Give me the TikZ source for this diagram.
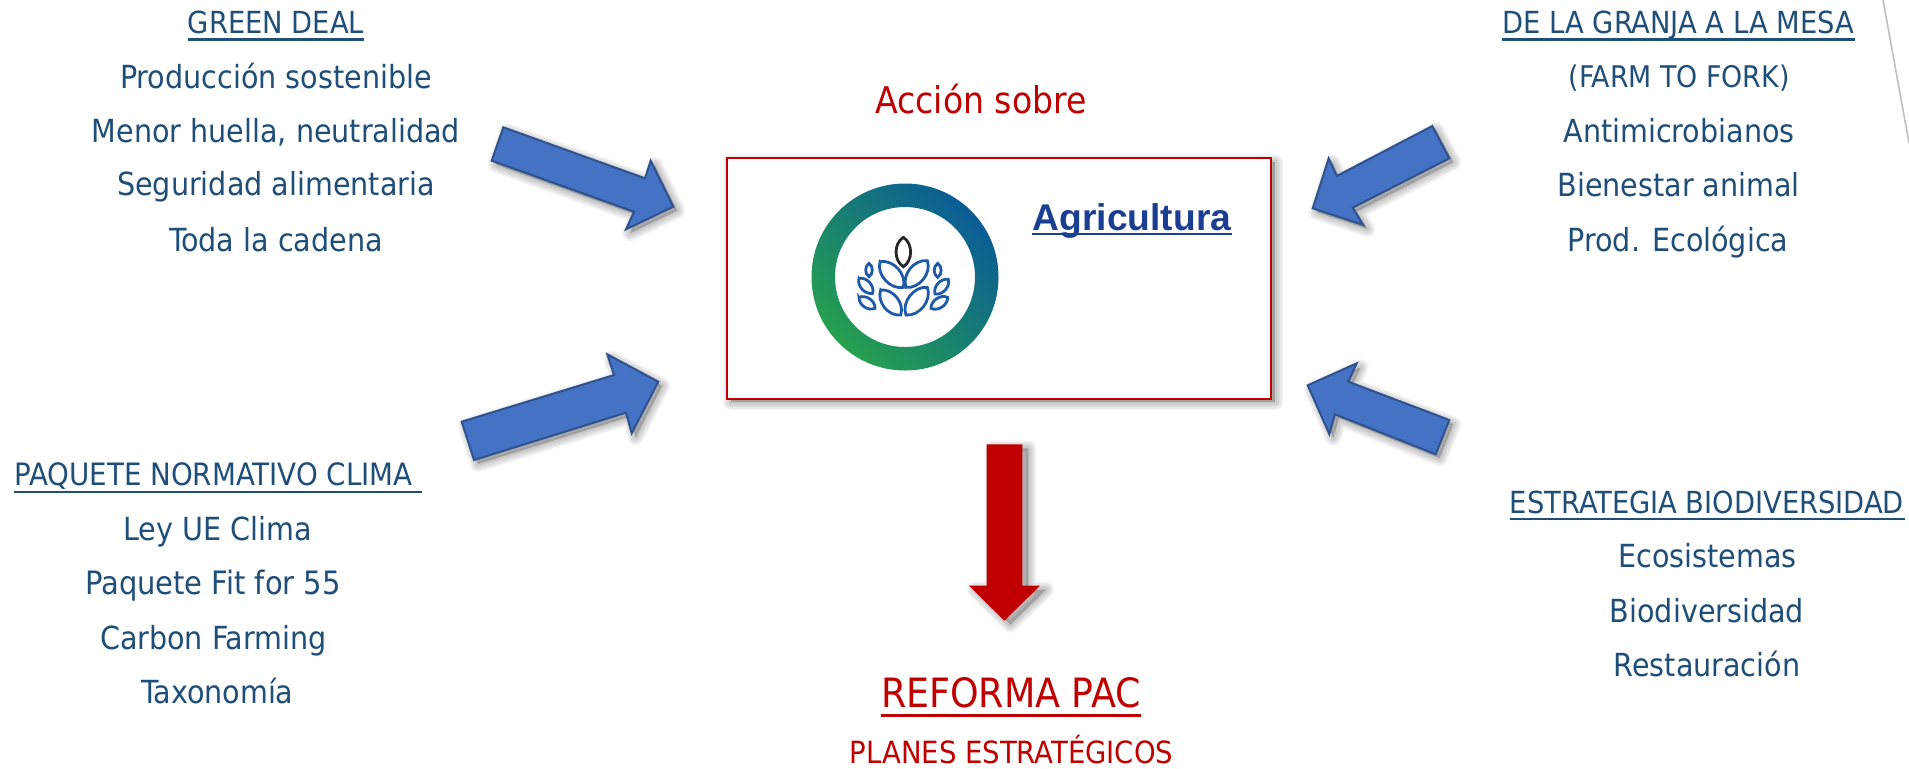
\documentclass[tikz,border=0pt]{standalone}
\usepackage{fontspec}
\setmainfont{DejaVu Sans Condensed}
\newfontfamily\arialfont{Liberation Sans}
\definecolor{txtblue}{HTML}{1F4E79}
\definecolor{pptred}{HTML}{C00000}
\definecolor{arrowfill}{HTML}{4472C4}
\definecolor{arrowline}{HTML}{2F528F}
\definecolor{ringgreen}{HTML}{26A04E}
\definecolor{ringblue}{HTML}{0A5C96}
\definecolor{leafblue}{HTML}{1F5AA8}
\definecolor{agriblue}{HTML}{1A3E92}
\newcommand\softshadow[3]{%
  \foreach \w in {16,13,10,7,4}{%
    \path[fill=black,draw=black,fill opacity=.045,draw opacity=.045,line join=round,
      line width=\w*0.5pt,shift={(#1,#2)}] #3;}}
\newcommand\blockarrow[1]{%
  \softshadow{4}{4}{#1}%
  \draw[blockarrowstyle] #1;}
\newcommand\leafshape[4]{\draw[leafstyle] (#1,#2) to[bend left=58] (#3,#4) to[bend left=58] cycle;}
\tikzset{
  body/.style={font=\fontsize{15.9}{19}\selectfont,text=txtblue,anchor=base,inner sep=0pt},
  bodycaps/.style={font=\fontsize{15.2}{18}\selectfont,text=txtblue,anchor=base,inner sep=0pt},
  redtext/.style={text=pptred,anchor=base,inner sep=0pt},
  ulblue/.style={draw=txtblue,line width=1.1pt},
  blockarrowstyle/.style={fill=arrowfill,draw=arrowline,line width=1pt,line join=miter},
  leafstyle/.style={draw=leafblue,line width=1.4pt}
}
\begin{document}
\begin{tikzpicture}[x=0.5pt,y=-0.5pt]
\useasboundingbox[fill=white] (0,0) rectangle (1909,768);
\draw[draw=black!25,line width=0.8pt] (1883,0) -- (1909,143);
% texts top left
\node[bodycaps] (gd) at (276,33) {GREEN DEAL};
\draw[ulblue] ([yshift=-3.2pt]gd.base west) -- ([yshift=-3.2pt]gd.base east);
\node[body] (gd1) at (276,88) {Producción sostenible};
\node[body] (gd2) at (276,142) {Menor huella, neutralidad};
\node[body] (gd3) at (276,195.5) {Seguridad alimentaria};
\node[body] (gd4) at (276,251) {Toda la cadena};
% bottom left
\node[bodycaps,font=\fontsize{15.4}{18}\selectfont] (pn) at (218,485.5) {PAQUETE NORMATIVO CLIMA\kern4.5pt};
\draw[ulblue] ([yshift=-3.2pt]pn.base west) -- ([yshift=-3.2pt]pn.base east);
\node[body] (pn1) at (217.5,540.5) {Ley UE Clima};
\node[body,font=\fontsize{16.1}{19}\selectfont] (pn2) at (213,594.5) {Paquete Fit for 55};
\node[body] (pn3) at (213.3,649.5) {Carbon Farming};
\node[body] (pn4) at (217.5,703.8) {Taxonomía};
% top right
\node[bodycaps] (fk) at (1678.3,33) {DE LA GRANJA A LA MESA};
\draw[ulblue] ([yshift=-3.2pt]fk.base west) -- ([yshift=-3.2pt]fk.base east);
\node[bodycaps,font=\fontsize{14.9}{18}\selectfont] (fk1) at (1679,87.8) {(FARM TO FORK)};
\node[body] (fk2) at (1679,142) {Antimicrobianos};
\node[body] (fk3) at (1678.7,196) {Bienestar animal};
\node[body] (fk4) at (1678,251) {Prod. Ecológica};
% bottom right
\node[bodycaps] (eb) at (1707,513) {ESTRATEGIA BIODIVERSIDAD};
\draw[ulblue] ([yshift=-3pt]eb.base west) -- ([yshift=-3pt]eb.base east);
\node[body] (eb1) at (1707.3,567) {Ecosistemas};
\node[body] (eb2) at (1707,622) {Biodiversidad};
\node[body] (eb3) at (1707,676.5) {Restauración};
% centre
\node[redtext,font=\fontsize{18.4}{22}\selectfont] (accion) at (981,113) {Acción sobre};
\softshadow{5}{5}{(726,157) rectangle (1270,397)}
\node[draw=pptred,fill=white,line width=1pt,minimum width=272pt,minimum height=120.5pt,inner sep=0pt,anchor=north west] (box) at (726,157) {};
\shade[even odd rule,top color=ringblue,bottom color=ringgreen,shading angle=-45]
  (905,277) circle[radius=93.5] (905,277) circle[radius=70];
\begin{scope}[shift={(780,200)},scale=1/3]
  \draw[draw=black!85,line width=1.4pt] (370,112) to[bend left=58] (370,200) to[bend left=58] cycle;
  \leafshape{300}{185}{370}{262}
  \leafshape{442}{182}{378}{262}
  \leafshape{302}{270}{362}{345}
  \leafshape{442}{262}{378}{345}
  \leafshape{267}{190}{267}{230}
  \leafshape{237}{235}{278}{280}
  \leafshape{237}{292}{285}{325}
  \leafshape{473}{190}{473}{232}
  \leafshape{505}{238}{465}{282}
  \leafshape{503}{292}{453}{325}
\end{scope}
\node[anchor=base,inner sep=0pt,text=agriblue,font=\arialfont\bfseries\fontsize{18.6}{22}\selectfont] (agri) at (1132,230) {Agricultura};
\draw[draw=agriblue,line width=1pt] ([yshift=-2.2pt]agri.base west) -- ([yshift=-2.2pt]agri.base east);
% block arrows
\blockarrow{(503.3,127.3) -- (491.7,160.7) -- (634,211.7) -- (626,229.3) -- (673.3,206.7) -- (650.7,160.7) -- (645,178.3) -- cycle}
\blockarrow{(461.7,421.7) -- (474,460) -- (626,412.7) -- (631.7,433.3) -- (658.3,381.7) -- (607.3,354.3) -- (614,375) -- cycle}
\blockarrow{(1432.3,126) -- (1449.3,158.3) -- (1352.7,207.7) -- (1363.3,225) -- (1312.7,208.3) -- (1328.7,158.3) -- (1336.7,176) -- cycle}
\blockarrow{(1449.3,420) -- (1435.7,454.3) -- (1335,414.3) -- (1329.3,434) -- (1307.7,385.3) -- (1356.7,363.3) -- (1348.3,381.7) -- cycle}
\softshadow{6}{4}{(986.7,444.3) -- (1022.3,444.3) -- (1022.3,585.7) -- (1040,585.7) -- (1004.3,620.7) -- (969,585.7) -- (986.7,585.7) -- cycle}
\fill[pptred] (986.7,444.3) -- (1022.3,444.3) -- (1022.3,585.7) -- (1040,585.7) -- (1004.3,620.7) -- (969,585.7) -- (986.7,585.7) -- cycle;
% bottom centre
\node[redtext,font=\fontsize{20.2}{24}\selectfont] (pac) at (1011,707) {REFORMA PAC};
\draw[draw=pptred,line width=1.5pt] ([yshift=-4pt]pac.base west) -- ([yshift=-4pt]pac.base east);
\node[redtext,font=\fontsize{15.3}{18}\selectfont] (planes) at (1011.5,763) {PLANES ESTRATÉGICOS};
\end{tikzpicture}
\end{document}
